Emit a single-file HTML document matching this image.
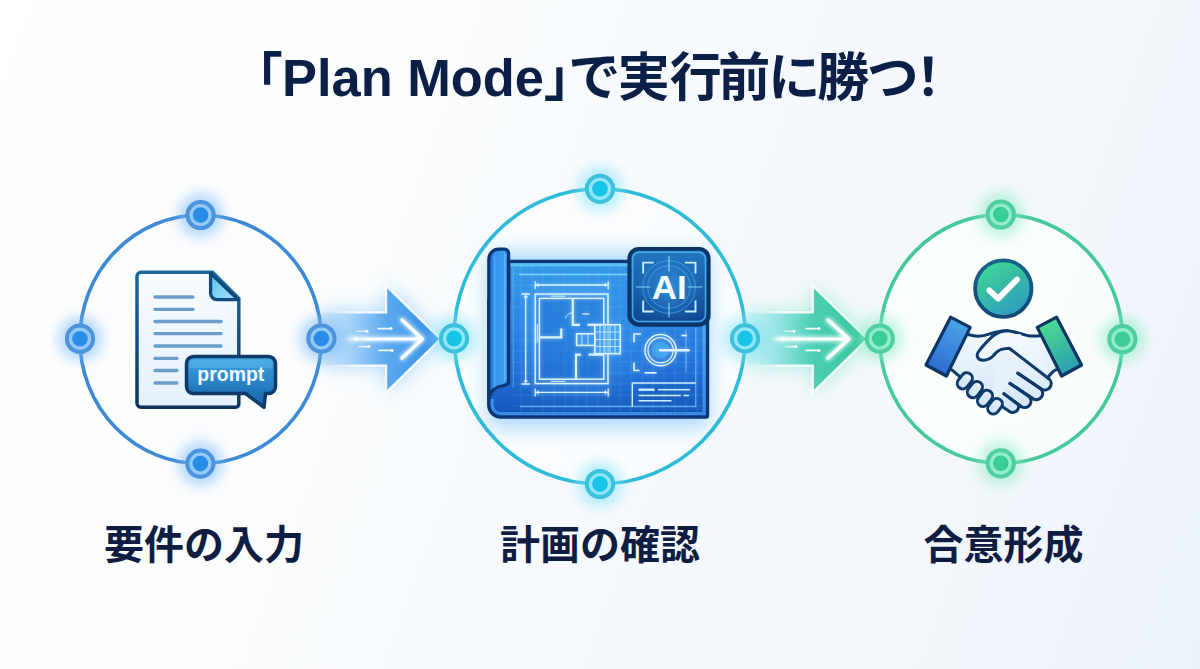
<!DOCTYPE html>
<html lang="ja">
<head>
<meta charset="utf-8">
<title>「Plan Mode」で実行前に勝つ!</title>
<style>
  html, body { margin: 0; padding: 0; }
  body {
    width: 1200px; height: 669px; overflow: hidden; position: relative;
    font-family: "Liberation Sans", "Noto Sans CJK JP", sans-serif;
    background: #f6f9fd;
  }
  #bg {
    position: absolute; left: 0; top: 0; width: 1200px; height: 669px;
    background: linear-gradient(110deg, #ffffff 0%, #fbfdfe 32%, #f5f8fd 58%, #f3f7fc 80%, #ecf2fb 100%);
  }
  svg#art { position: absolute; left: 0; top: 0; }
  h1 {
    position: absolute; margin: 0; left: 0; top: 41px; width: 1200px; height: 74px;
    line-height: 74px; font-size: 52px; font-weight: 700; color: #0c1f47;
    white-space: nowrap; letter-spacing: 0;
    font-feature-settings: "palt" 1;
  }
  h1 { padding-left: 256px; box-sizing: border-box; }
  h1 .lat { font-size: 52.4px; }
  h1 .t1 { margin-left: 0.5px; }
  h1 .t2 { letter-spacing: -1.6px; margin-left: -3.5px; }
  .label {
    position: absolute; margin: 0; top: 515.5px; height: 58px; line-height: 58px;
    font-size: 40px; font-weight: 700; color: #101d42; white-space: nowrap;
    text-align: center; width: 300px;
  }
</style>
</head>
<body>
<div id="bg"></div>

<svg id="art" width="1200" height="669" viewBox="0 0 1200 669">
  <defs>
    <filter id="blur4" x="-50%" y="-50%" width="200%" height="200%"><feGaussianBlur stdDeviation="4"/></filter>
    <filter id="blur6" x="-50%" y="-50%" width="200%" height="200%"><feGaussianBlur stdDeviation="6"/></filter>
    <filter id="blur10" x="-50%" y="-50%" width="200%" height="200%"><feGaussianBlur stdDeviation="10"/></filter>
    <filter id="blur2" x="-50%" y="-50%" width="200%" height="200%"><feGaussianBlur stdDeviation="2"/></filter>


    <linearGradient id="gA1" gradientUnits="userSpaceOnUse" x1="322" y1="0" x2="440" y2="0">
      <stop offset="0" stop-color="#d2e7fb" stop-opacity=".55"/>
      <stop offset=".25" stop-color="#a4d0f8" stop-opacity=".95"/>
      <stop offset=".55" stop-color="#5aa9ef"/>
      <stop offset="1" stop-color="#378ce4"/>
    </linearGradient>
    <linearGradient id="gA1s" gradientUnits="userSpaceOnUse" x1="322" y1="0" x2="440" y2="0">
      <stop offset="0" stop-color="#ffffff" stop-opacity="0"/>
      <stop offset=".3" stop-color="#ffffff" stop-opacity=".9"/>
      <stop offset="1" stop-color="#f4fbff"/>
    </linearGradient>
    <linearGradient id="gLine1" gradientUnits="userSpaceOnUse" x1="340" y1="0" x2="422" y2="0">
      <stop offset="0" stop-color="#ffffff" stop-opacity="0"/>
      <stop offset=".35" stop-color="#ffffff" stop-opacity=".9"/>
      <stop offset="1" stop-color="#ffffff"/>
    </linearGradient>
    <linearGradient id="gA2" gradientUnits="userSpaceOnUse" x1="748" y1="0" x2="867" y2="0">
      <stop offset="0" stop-color="#ccf2f7" stop-opacity=".55"/>
      <stop offset=".25" stop-color="#93e3e4" stop-opacity=".95"/>
      <stop offset=".55" stop-color="#4ccfb4"/>
      <stop offset="1" stop-color="#36c49c"/>
    </linearGradient>
    <linearGradient id="gA2s" gradientUnits="userSpaceOnUse" x1="748" y1="0" x2="867" y2="0">
      <stop offset="0" stop-color="#ffffff" stop-opacity="0"/>
      <stop offset=".3" stop-color="#ffffff" stop-opacity=".9"/>
      <stop offset="1" stop-color="#f4fffb"/>
    </linearGradient>
    <linearGradient id="gLine2" gradientUnits="userSpaceOnUse" x1="767" y1="0" x2="849" y2="0">
      <stop offset="0" stop-color="#ffffff" stop-opacity="0"/>
      <stop offset=".35" stop-color="#ffffff" stop-opacity=".9"/>
      <stop offset="1" stop-color="#ffffff"/>
    </linearGradient>


    <linearGradient id="gDoc" x1="0" y1="0" x2="0" y2="1">
      <stop offset="0" stop-color="#f8fbff"/><stop offset="1" stop-color="#e4f0fb"/>
    </linearGradient>
    <linearGradient id="gDocS" x1="0" y1="0" x2="0" y2="1">
      <stop offset="0" stop-color="#1c6a9d"/><stop offset="1" stop-color="#0e3262"/>
    </linearGradient>
    <linearGradient id="gFold" x1="0" y1="0" x2="1" y2="1">
      <stop offset="0" stop-color="#58c3ee"/><stop offset="1" stop-color="#a8e2f9"/>
    </linearGradient>
    <linearGradient id="gBub" x1="0" y1="0" x2="0" y2="1">
      <stop offset="0" stop-color="#3fa6e2"/><stop offset=".75" stop-color="#1f72b8"/><stop offset="1" stop-color="#1a62a8"/>
    </linearGradient>


    <linearGradient id="gSheet" x1="0" y1="0" x2="0" y2="1">
      <stop offset="0" stop-color="#3a9ee8"/><stop offset=".35" stop-color="#2c86e4"/><stop offset=".7" stop-color="#2170d6"/><stop offset="1" stop-color="#1755b9"/>
    </linearGradient>
    <linearGradient id="gBand" gradientUnits="userSpaceOnUse" x1="0" y1="262" x2="0" y2="416">
      <stop offset="0" stop-color="#5ecbf6"/><stop offset=".3" stop-color="#4fb0f4"/><stop offset="1" stop-color="#3f8fe8"/>
    </linearGradient>
    <radialGradient id="gSheetGlow" gradientUnits="userSpaceOnUse" cx="585" cy="335" r="95">
      <stop offset="0" stop-color="#48aaf8" stop-opacity=".6"/><stop offset=".55" stop-color="#3798f0" stop-opacity=".28"/><stop offset="1" stop-color="#1e72d4" stop-opacity="0"/>
    </radialGradient>
    <linearGradient id="gRoll" gradientUnits="userSpaceOnUse" x1="489" y1="0" x2="509" y2="0">
      <stop offset="0" stop-color="#1c6ed2"/><stop offset=".3" stop-color="#3794ee"/><stop offset=".75" stop-color="#3f9ef2"/><stop offset="1" stop-color="#2378dc"/>
    </linearGradient>
    <clipPath id="clipSheet"><rect x="513" y="266.5" width="189.5" height="145.5"/></clipPath>
    <linearGradient id="gBadge" x1="0" y1="0" x2="0" y2="1">
      <stop offset="0" stop-color="#2478c2"/><stop offset="1" stop-color="#0f4690"/>
    </linearGradient>
    <radialGradient id="gBadgeGlow" gradientUnits="userSpaceOnUse" cx="669" cy="287" r="38">
      <stop offset="0" stop-color="#3fa4ea" stop-opacity=".75"/><stop offset=".6" stop-color="#2a7fd0" stop-opacity=".35"/><stop offset="1" stop-color="#1a5fb0" stop-opacity="0"/>
    </radialGradient>


    <linearGradient id="gCheck" x1="0.2" y1="0" x2="0.8" y2="1">
      <stop offset="0" stop-color="#40d892"/><stop offset=".5" stop-color="#35b8a8"/><stop offset="1" stop-color="#2e98c8"/>
    </linearGradient>
    <linearGradient id="gCheckS" x1="0" y1="0" x2="0" y2="1">
      <stop offset="0" stop-color="#18648a"/><stop offset="1" stop-color="#0f4876"/>
    </linearGradient>
    <linearGradient id="gHand" gradientUnits="userSpaceOnUse" x1="0" y1="330" x2="0" y2="412">
      <stop offset="0" stop-color="#f2f8fe"/><stop offset="1" stop-color="#d3e6f8"/>
    </linearGradient>
    <linearGradient id="gHand2" gradientUnits="userSpaceOnUse" x1="0" y1="330" x2="0" y2="380">
      <stop offset="0" stop-color="#f6fafe"/><stop offset="1" stop-color="#e4f0fb"/>
    </linearGradient>
    <linearGradient id="gKn" x1="0" y1="0" x2="0" y2="1">
      <stop offset="0" stop-color="#e6f1fb"/><stop offset="1" stop-color="#cbe1f6"/>
    </linearGradient>
    <linearGradient id="gCuffL" gradientUnits="userSpaceOnUse" x1="960" y1="320" x2="936" y2="372">
      <stop offset="0" stop-color="#4aa6e6"/><stop offset="1" stop-color="#2e6ad2"/>
    </linearGradient>
    <linearGradient id="gCuffR" gradientUnits="userSpaceOnUse" x1="1046" y1="320" x2="1072" y2="372">
      <stop offset="0" stop-color="#4edc8c"/><stop offset="1" stop-color="#2a9db4"/>
    </linearGradient>

    <!-- node symbols -->
    <g id="nodeB">
      <circle r="23" fill="#78b8f6" opacity=".5" filter="url(#blur6)"/>
      <circle r="13.1" fill="#94c9f8" stroke="#4b93dc" stroke-width="4"/>
      <circle r="7.8" fill="#2a8be8"/>
    </g>
    <g id="nodeC">
      <circle r="23" fill="#7fe2f6" opacity=".5" filter="url(#blur6)"/>
      <circle r="13.1" fill="#90e8fa" stroke="#3cc0dc" stroke-width="4"/>
      <circle r="7.8" fill="#18c4e6"/>
    </g>
    <g id="nodeG">
      <circle r="23" fill="#8aeac4" opacity=".5" filter="url(#blur6)"/>
      <circle r="13.1" fill="#92eeca" stroke="#4fcfa0" stroke-width="4"/>
      <circle r="7.8" fill="#3acd96"/>
    </g>
  </defs>


  <!-- ===== arrow 1 (blue) ===== -->
  <g id="arrow1">
    <path d="M324 312.4 H386 V285.6 L440.6 339 L386 392.6 V365.6 H324 Z" fill="#5aaef5" opacity=".55" filter="url(#blur10)"/>
    <path d="M322 312.4 H386 V285.6 L440.6 339 L386 392.6 V365.6 H322 Z" fill="url(#gA1)" stroke="url(#gA1s)" stroke-width="2.4" stroke-linejoin="miter"/>
    <g filter="url(#blur2)" stroke="#e8f8ff" stroke-linecap="round" fill="none" opacity=".95">
      <path d="M350 339 H421" stroke-width="5"/>
      <path d="M402 320 L422.5 339 L402 358" stroke-width="5"/>
    </g>
    <g stroke="#ffffff" stroke-linecap="round" stroke-linejoin="round" fill="none">
      <path d="M346 339 H421" stroke-width="3" stroke="url(#gLine1)"/>
      <path d="M402 320 L422.5 339 L402 358" stroke-width="3.4"/>
      <path d="M357 331.3 H367" stroke-width="1.6" stroke="url(#gLine1)"/>
      <path d="M378 328.6 H391" stroke-width="1.6" stroke="url(#gLine1)"/>
      <path d="M359 346.6 H369" stroke-width="1.6" stroke="url(#gLine1)"/>
      <path d="M379 350.4 H392" stroke-width="1.6" stroke="url(#gLine1)"/>
    </g>
    <g fill="#ffffff">
      <circle cx="367" cy="331.3" r="1.5"/><circle cx="391" cy="328.6" r="1.5"/>
      <circle cx="369" cy="346.6" r="1.5"/><circle cx="392" cy="350.4" r="1.5"/>
      <circle cx="356" cy="339" r="2"/>
    </g>
  </g>

  <!-- ===== arrow 2 (green) ===== -->
  <g id="arrow2">
    <path d="M751 312.4 H812.7 V285.6 L867.5 339 L812.7 392.6 V365.6 H751 Z" fill="#5fe0c0" opacity=".55" filter="url(#blur10)"/>
    <path d="M748 312.4 H812.7 V285.6 L867.5 339 L812.7 392.6 V365.6 H748 Z" fill="url(#gA2)" stroke="url(#gA2s)" stroke-width="2.4" stroke-linejoin="miter"/>
    <g filter="url(#blur2)" stroke="#efffff" stroke-linecap="round" fill="none" opacity=".95">
      <path d="M777 339 H848" stroke-width="5"/>
      <path d="M828 320 L849 339 L828 358" stroke-width="5"/>
    </g>
    <g stroke="#ffffff" stroke-linecap="round" stroke-linejoin="round" fill="none">
      <path d="M773 339 H848" stroke-width="3" stroke="url(#gLine2)"/>
      <path d="M828 320 L849 339 L828 358" stroke-width="3.4"/>
      <path d="M784 331.3 H794" stroke-width="1.6" stroke="url(#gLine2)"/>
      <path d="M806 328.6 H819" stroke-width="1.6" stroke="url(#gLine2)"/>
      <path d="M786 346.6 H796" stroke-width="1.6" stroke="url(#gLine2)"/>
      <path d="M806 350.4 H819" stroke-width="1.6" stroke="url(#gLine2)"/>
    </g>
    <g fill="#ffffff">
      <circle cx="794" cy="331.3" r="1.5"/><circle cx="819" cy="328.6" r="1.5"/>
      <circle cx="796" cy="346.6" r="1.5"/><circle cx="819" cy="350.4" r="1.5"/>
      <circle cx="783" cy="339" r="2"/>
    </g>
  </g>

  <!-- ===== circle 1 (blue) ===== -->
  <g id="c1">
    <ellipse cx="200.6" cy="339.3" rx="120.7" ry="124.3" fill="#fbfdff" opacity=".8"/>
    <ellipse cx="200.6" cy="339.3" rx="120.7" ry="124.3" fill="none" stroke="#3c8ad6" stroke-width="3.6"/>
    <use href="#nodeB" x="200.6" y="215"/>
    <use href="#nodeB" x="80" y="338.7"/>
    <use href="#nodeB" x="321.4" y="338.5"/>
    <use href="#nodeB" x="200.4" y="463.6"/>
  </g>

  <!-- ===== circle 2 (cyan) ===== -->
  <g id="c2">
    <ellipse cx="599.7" cy="336.4" rx="145.6" ry="147.6" fill="#fbfeff" opacity=".8"/>
    <ellipse cx="599.7" cy="336.4" rx="145.6" ry="147.6" fill="none" stroke="#2ebbd8" stroke-width="3.6"/>
    <use href="#nodeC" x="600" y="188.8"/>
    <use href="#nodeC" x="454" y="338.4"/>
    <use href="#nodeC" x="745" y="338.4"/>
    <use href="#nodeC" x="600" y="484"/>
  </g>

  <!-- ===== circle 3 (green) ===== -->
  <g id="c3">
    <ellipse cx="1001.2" cy="338.9" rx="121.3" ry="124.4" fill="#fbfffd" opacity=".8"/>
    <ellipse cx="1001.2" cy="338.9" rx="121.3" ry="124.4" fill="none" stroke="#45c99a" stroke-width="3.6"/>
    <use href="#nodeG" x="1000.8" y="214.5"/>
    <use href="#nodeG" x="879.8" y="338.6"/>
    <use href="#nodeG" x="1122.4" y="339.2"/>
    <use href="#nodeG" x="1000.8" y="463.3"/>
  </g>

  <!-- ===== document icon ===== -->
  <g id="doc">
    <path d="M141 272.3 H212.5 L238.8 298.6 V404.2 a3 3 0 0 1 -3 3 H141 a4 4 0 0 1 -4 -4 V276.3 a4 4 0 0 1 4 -4 Z" fill="url(#gDoc)" stroke="url(#gDocS)" stroke-width="3.5" stroke-linejoin="round"/>
    <path d="M210.6 273.3 V293.3 a6.3 6.3 0 0 0 6.3 6.3 H238 Z" fill="url(#gFold)" stroke="#0f4a7c" stroke-width="3.3" stroke-linejoin="round"/>
    <g stroke="#6b9dca" stroke-width="3.3" stroke-linecap="round">
      <path d="M155 297 H193"/><path d="M155 309.3 H193"/>
      <path d="M155 321.5 H221"/><path d="M155 333.7 H221"/><path d="M155 346 H221"/>
      <path d="M155 358.3 H177"/><path d="M155 370.5 H177"/><path d="M155 383 H177"/>
    </g>
    <!-- prompt bubble -->
    <path d="M193.5 356.5 H268.5 a7 7 0 0 1 7 7 V386.5 a7 7 0 0 1 -7 7 H265.5 L264 407.3 L245.5 393.5 H193.5 a7 7 0 0 1 -7 -7 V363.5 a7 7 0 0 1 7 -7 Z" fill="url(#gBub)" stroke="#0d3a69" stroke-width="3.5" stroke-linejoin="round"/>
    <path d="M194 359.6 H268 a4.5 4.5 0 0 1 4.5 4.5 V368 H189.5 V364.1 a4.5 4.5 0 0 1 4.5 -4.5 Z" fill="#6cc4f2" opacity=".35"/>
    <text x="230.8" y="381.2" text-anchor="middle" font-family="'Liberation Sans', sans-serif" font-weight="700" font-size="19.6" fill="#f4fbff" textLength="67" lengthAdjust="spacingAndGlyphs">prompt</text>
  </g>
  <!-- ===== blueprint icon ===== -->
  <g id="blueprint">
    <rect x="487" y="252" width="223" height="176" rx="12" fill="#4aa8f2" opacity=".45" filter="url(#blur10)"/>
    <!-- sheet -->
    <path d="M488.8 300 V405 a12 12 0 0 0 12 12 H706 a1.5 1.5 0 0 0 1.5 -1.5 V261.5 H508.6 V300 Z" fill="url(#gSheet)" stroke="#0b3575" stroke-width="3.4" stroke-linejoin="round"/>
    <path d="M490.5 300 V405 a10.3 10.3 0 0 0 10.3 10.3 H705.8 V263.2 H508.6 V300 Z" fill="url(#gSheetGlow)"/>
    <path d="M510.3 264.9 H704.1 V413.6 H500.8 a8.6 8.6 0 0 1 -8.6 -8.6 V399" fill="none" stroke="url(#gBand)" stroke-width="3.2" opacity=".9"/>
    <!-- grid -->
    <g clip-path="url(#clipSheet)" stroke="#8ccfff" stroke-width=".7" opacity=".22">
      <path d="M521 262V417M532 262V417M543 262V417M554 262V417M565 262V417M576 262V417M587 262V417M598 262V417M609 262V417M620 262V417M631 262V417M642 262V417M653 262V417M664 262V417M675 262V417M686 262V417M697 262V417"/>
      <path d="M510 274H705M510 285H705M510 296H705M510 307H705M510 318H705M510 329H705M510 340H705M510 351H705M510 362H705M510 373H705M510 384H705M510 395H705M510 406H705"/>
    </g>
    <!-- inner frame -->
    <g stroke="#7cc8ff" stroke-width="1.3" fill="none" opacity=".9">
      <path d="M519 274.5 H628" stroke="#86dcff"/>
      <path d="M520 406.5 H695.7 V328" stroke="#66b2f6"/>
      <path d="M513.2 268 V388" opacity=".45"/>
    </g>
    <!-- roll -->
    <path d="M508.6 382.5 V253.2 a4 4 0 0 0 -4 -4 H498.8 a10 10 0 0 0 -10 10 V399 C489.8 392.5 493 388.6 498.5 386.8 C503 385.6 507.8 385.8 508.6 382.5 Z" fill="url(#gRoll)" stroke="#0b3575" stroke-width="3.2" stroke-linejoin="round"/>
    <path d="M504.9 254 V381" stroke="#6cc0ff" stroke-width="1.4" opacity=".85" stroke-linecap="round"/>
    <path d="M494.6 256 V387" stroke="#62b8fa" stroke-width="1.4" opacity=".7" stroke-linecap="round"/>

    <!-- floor plan -->
    <rect x="537.3" y="296.2" width="68.6" height="85.2" fill="#1564c4" opacity=".36"/>
    <use href="#plan" filter="url(#blur2)" opacity=".55"/>
    <use href="#radar" filter="url(#blur2)" opacity=".5"/>
    <g id="plan" fill="none" stroke="#dcf4ff" stroke-linejoin="miter">
      <g stroke-width="1.5">
        <rect x="535.2" y="294" width="72.8" height="89.6"/>
        <rect x="539.4" y="298.4" width="64.4" height="80.8"/>
      </g>
      <g stroke-width="2.2">
        <path d="M572.8 298.4 V324.8 H580"/>
        <path d="M587.5 324.8 H603.8"/>
        <path d="M539.4 337.4 H561.3 V328.6"/>
        <path d="M576 379.2 V354.6 H581"/>
        <path d="M588.5 354.6 H603.8"/>
      </g>
      <g stroke-width="1.6">
        <rect x="594.8" y="324.8" width="25.4" height="28.9" fill="#3aa4f4" fill-opacity=".55"/>
        <rect x="576.6" y="333.8" width="18.2" height="11.6" fill="#3aa4f4" fill-opacity=".35"/>
      </g>
      <g stroke-width=".9" opacity=".85">
        <path d="M600 325V353.5M605 325V353.5M610 325V353.5M615 325V353.5"/>
        <path d="M595 332H620M595 339.5H620M595 346.5H620"/>
        <path d="M582 334V345M588 334V345"/>
        <path d="M582.2 314 H589.5" stroke-width="1.4"/>
        <path d="M565.5 318 a7.3 7.3 0 0 1 7.3 -5" />
      </g>
      <!-- windows -->
      <g stroke-width="1" opacity=".9">
        <path d="M550.8 296.2 H565.5M550.8 381.4 H565.5M537.3 324.4 V343"/>
      </g>
      <!-- dimension lines -->
      <g stroke-width="1.3">
        <path d="M535.2 285 H608.2M535.2 281.3 V289.3M608.2 281.3 V289.3M538 283.2V286.8M605.4 283.2V286.8"/>
        <path d="M535.2 392.4 H608.2M535.2 388.4 V396.6M608.2 388.4 V396.6M538 390.6V394.2M605.4 390.6V394.2"/>
        <path d="M525.7 294 V384M521.5 294 H530M521.5 384 H530M524 297H527.5M524 381H527.5"/>
      </g>
    </g>

    <!-- target / radar -->
    <g id="radar" fill="none" stroke="#dff4ff">
      <circle cx="660.6" cy="350.2" r="8.6" fill="#49a9f2" stroke="none" opacity=".8"/>
      <circle cx="660.6" cy="350.2" r="15.6" stroke-width="1.5"/>
      <circle cx="660.6" cy="350.2" r="12.6" stroke-width="1.2"/>
      <path d="M660 350.2 H688.5" stroke-width="2.4" stroke-linecap="round"/>
      <g stroke-width="1.6">
        <path d="M641 334 H634 V342.5"/>
        <path d="M634 362.8 V370.5 H639.5"/>
        <path d="M681.5 335.5 H687"/>
        <path d="M644.6 372.8 H656.6"/>
      </g>
      <path d="M686 330 V372" stroke-width=".8" opacity=".5"/>
    </g>

    <!-- title block -->
    <g fill="none" stroke="#cfeeff">
      <path d="M632.3 406.5 V383 H695.7" stroke-width="1.4"/>
      <path d="M638.5 389.7 H654.6" stroke-width="2.4"/>
      <path d="M658 389.7 H690" stroke-width="1.5"/>
      <path d="M638.5 395.4 H680.8M683.5 395.4 H689" stroke-width="1.5"/>
      <path d="M638.5 400.8 H671.5" stroke-width="1.5"/>
    </g>

    <!-- AI badge -->
    <rect x="629.3" y="248.9" width="79.4" height="75.9" rx="9.5" fill="url(#gBadge)" stroke="#0c3566" stroke-width="3.8"/>
    <rect x="632.6" y="252.2" width="72.8" height="69.3" rx="6.8" fill="none" stroke="#4ab6ee" stroke-width="1.5" opacity=".85"/>
    <rect x="633.5" y="253" width="71" height="67.6" rx="6" fill="url(#gBadgeGlow)"/>
    <g fill="none" stroke="#4fb4ea" stroke-width="1" opacity=".65">
      <circle cx="669" cy="287" r="26.3"/>
      <circle cx="669" cy="287" r="21.2"/>
    </g>
    <g stroke="#7fe0ff" stroke-width="1.2" stroke-linecap="round" opacity=".95">
      <path d="M669 256.2 V271M669 303 V316.7M636.4 287 H650M688 287 H702"/>
    </g>
    <g fill="none" stroke="#c4efff" stroke-width="1.9">
      <path d="M653.7 262.6 H643.2 V273.6"/>
      <path d="M685 262.6 H695.5 V273.6"/>
      <path d="M643.2 300.5 V311.5 H653.7"/>
      <path d="M695.5 300.5 V311.5 H685"/>
    </g>
    <text x="669.2" y="298.5" text-anchor="middle" font-family="'Liberation Sans', sans-serif" font-weight="700" font-size="33" fill="#f2fbff" textLength="35" lengthAdjust="spacingAndGlyphs">AI</text>
  </g>

  <!-- ===== handshake icon ===== -->
  <g id="handshake">
    <!-- check badge -->
    <circle cx="1003.3" cy="288.6" r="28.2" fill="url(#gCheck)" stroke="url(#gCheckS)" stroke-width="3.8"/>
    <path d="M989.3 290.3 L998.2 298.6 L1017 279.6" fill="none" stroke="#ffffff" stroke-width="5.8" stroke-linecap="round" stroke-linejoin="round"/>

    <!-- hands base (silhouette) -->
    <path d="M962 331 L969 334.8 C975 336.6 982 336.7 989 334.2 C996 331.6 1002 330.4 1007.5 330.7 C1014 331.1 1020 334 1027 335.4 C1031 336.1 1035 336.2 1039.5 335.8 L1047 333 L1063 366 L1053.7 371 L1047.4 377.6 L1012 406 L990 406 L960.6 377.4 L952.2 370.2 L945 365 Z" fill="url(#gHand)" stroke="#0e3a6b" stroke-width="3" stroke-linejoin="round"/>

    <!-- right-hand fingers (drawn bottom to top) -->
    <g fill="url(#gHand)" stroke="#0e3a6b" stroke-width="3" stroke-linecap="round" stroke-linejoin="round">
      <path d="M1003.8 393.6 L1016 401.6 A5.9 5.9 0 0 1 1009.4 411.4 L1001.5 406"/>
      <path d="M1009.8 383.3 L1028.2 395.9 A6.4 6.4 0 0 1 1021 406.5 L1003.8 393.6"/>
      <path d="M1017.6 373 L1040.1 388.3 A6.3 6.3 0 0 1 1033 398.7 L1009.8 383.3"/>
      <path d="M1030 364 L1048.6 378.4 A6.5 6.5 0 0 1 1041.6 389.3 L1017.6 373" />
    </g>
    <!-- cover for finger roots -->
    <path d="M1000 352 L1030 362 L1046 376 L1018 372 L1009 383 L1003 393 L1000 404 L990 404 Z" fill="#e6f0fa" stroke="none"/>

    <!-- right hand thumb + finger upper edge -->
    <path d="M992.5 336.4 C987.5 341 981.5 347.5 978.3 352 C975.6 356 978.2 360.4 983.3 360.2 C987.2 360 990.8 358.4 993.6 355.4 C996.2 352.6 998 350.2 1001.4 349.4 C1004.4 348.7 1007.2 348.3 1009.2 348.2 L1048.2 378.2 L1040 350 L1020 334 Z" fill="url(#gHand2)" stroke="none"/>
    <path d="M992.5 336.4 C987.5 341 981.5 347.5 978.3 352 C975.6 356 978.2 360.4 983.3 360.2 C987.2 360 990.8 358.4 993.6 355.4 C996.2 352.6 998 350.2 1001.4 349.4 C1004.4 348.7 1007.2 348.3 1009.2 348.2 L1048.2 378.2" fill="none" stroke="#0e3a6b" stroke-width="3" stroke-linecap="round" stroke-linejoin="round"/>
    <path d="M992.5 336.4 C997 332.9 1002.5 330.7 1007.5 330.7" fill="none" stroke="#0e3a6b" stroke-width="3" stroke-linecap="round"/>
    <!-- separator lines redrawn on top -->
    <g fill="none" stroke="#0e3a6b" stroke-width="3" stroke-linecap="round">
      <path d="M1017.6 373 L1041.6 389.3"/>
      <path d="M1009.8 383.3 L1033 398.7"/>
      <path d="M1003.8 393.6 L1021 406.5"/>
    </g>

    <!-- left-hand knuckles (capsules) -->
    <g fill="url(#gKn)" stroke="#0e3a6b" stroke-width="3">
      <rect x="-5.6" y="-8.8" width="11.2" height="17.6" rx="5.6" transform="translate(964.8 380.8) rotate(38)"/>
      <rect x="-5.6" y="-8.8" width="11.2" height="17.6" rx="5.6" transform="translate(974.9 389.6) rotate(38)"/>
      <rect x="-5.6" y="-8.8" width="11.2" height="17.6" rx="5.6" transform="translate(985 398.4) rotate(38)"/>
      <rect x="-5.6" y="-8.4" width="11.2" height="16.8" rx="5.6" transform="translate(995 406.2) rotate(38)"/>
    </g>

    <!-- cuffs -->
    <path d="M950.6 317.2 L970.2 327.4 L946.4 376 L926 365 Z" fill="url(#gCuffL)" stroke="#0d3563" stroke-width="3.2" stroke-linejoin="round"/>
    <path d="M1056.6 317.2 L1037.2 327.4 L1061.6 376 L1081.6 365 Z" fill="url(#gCuffR)" stroke="#0d3563" stroke-width="3.2" stroke-linejoin="round"/>
  </g>

</svg>


<h1><span class="t0">「</span><span class="lat">Plan Mode</span><span class="t1">」で実行</span><span class="t2">前に勝つ！</span></h1>

<p class="label" style="left:54px">要件の入力</p>
<p class="label" style="left:450px">計画の確認</p>
<p class="label" style="left:853.6px">合意形成</p>

</body>
</html>
